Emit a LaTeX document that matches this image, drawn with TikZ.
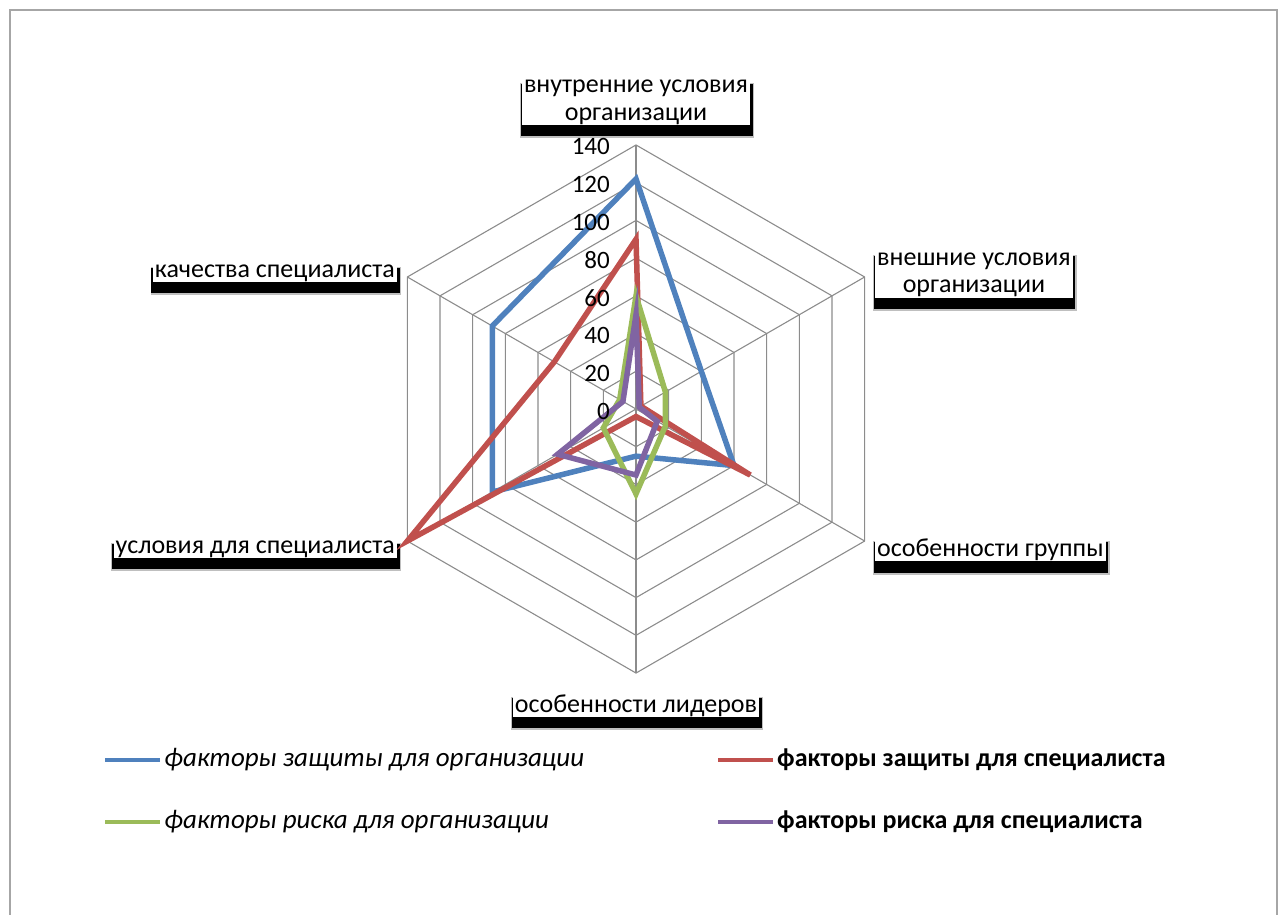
\documentclass[tikz,border=0pt]{standalone}
\usepackage{fontspec}
\setmainfont{Carlito}
\usetikzlibrary{backgrounds}
\definecolor{sBlue}{HTML}{4F81BD}
\definecolor{sRed}{HTML}{C0504D}
\definecolor{sGreen}{HTML}{9BBB59}
\definecolor{sPurple}{HTML}{8064A2}
\definecolor{gridc}{HTML}{8C8C8C}
\definecolor{framec}{HTML}{A6A6A6}
\newcommand\cx{636}
\newcommand\cy{409}
\newcommand\kk{1.886}
\newcommand\radar[7]{%
  \draw[#1] ({\cx},{\cy-#2*\kk})
    -- ({\cx+#3*\kk*cos(30)},{\cy-#3*\kk*sin(30)})
    -- ({\cx+#4*\kk*cos(30)},{\cy+#4*\kk*sin(30)})
    -- ({\cx},{\cy+#5*\kk})
    -- ({\cx-#6*\kk*cos(30)},{\cy+#6*\kk*sin(30)})
    -- ({\cx-#7*\kk*cos(30)},{\cy-#7*\kk*sin(30)})
    -- cycle;}
\begin{document}
\begin{tikzpicture}[x=1pt,y=-1pt,
  gridline/.style={draw=gridc, line width=1.1pt},
  series/.style={line width=5.5pt, line join=miter, miter limit=12},
  axlabel/.style={fill=white, inner xsep=2pt, inner ysep=0.5pt, align=center,
    font=\fontsize{26}{27.5}\selectfont},
  ticklbl/.style={anchor=east, inner sep=0pt, font=\fontsize{25}{27}\selectfont},
  legtext/.style={anchor=west, inner sep=0pt},
  legline/.style={line width=4pt}]
\useasboundingbox (0,0) rectangle (1284,914);
% outer frame
\draw[framec, line width=2pt] (9.5,930) -- (9.5,9.5) -- (1277,9.5) -- (1277,930);
% grid
\coordinate (O) at (\cx,\cy);
\foreach \r in {20,40,...,140}{
  \draw[gridline] ({\cx},{\cy-\r*\kk})
    -- ({\cx+\r*\kk*cos(30)},{\cy-\r*\kk*sin(30)})
    -- ({\cx+\r*\kk*cos(30)},{\cy+\r*\kk*sin(30)})
    -- ({\cx},{\cy+\r*\kk})
    -- ({\cx-\r*\kk*cos(30)},{\cy+\r*\kk*sin(30)})
    -- ({\cx-\r*\kk*cos(30)},{\cy-\r*\kk*sin(30)})
    -- cycle;}
\foreach \a [count=\i] in {90,30,-30,-90,-150,150}{
  \coordinate (V\i) at ({\cx+140*\kk*cos(\a)},{\cy-140*\kk*sin(\a)});
  \draw[gridline] (O) -- (V\i);}
% series
\radar{series, sBlue}{122}{40}{60}{25}{88}{88}
\radar{series, sRed}{90}{3}{70}{4}{140}{50}
\radar{series, sGreen}{60}{18}{18}{45}{20}{10}
\radar{series, sPurple}{50}{2}{13}{35}{48}{8}
% tick labels
\foreach \v in {0,20,...,140}{
  \node[ticklbl] (t\v) at (610,{\cy-\v*\kk+2}) {\v};}
% category labels
\node[axlabel] (lblA) at (636,102.5) {внутренние условия\\организации};
\node[axlabel, anchor=west] (lblB) at (875,275) {внешние условия\\организации};
\node[axlabel, anchor=west] (lblC) at (875,550) {особенности группы};
\node[axlabel] (lblD) at (636,705.5) {особенности лидеров};
\node[axlabel, anchor=east] (lblE) at (397,549) {условия для специалиста};
\node[axlabel, anchor=east] (lblF) at (397,273) {качества специалиста};
\begin{scope}[on background layer]
\foreach \n in {lblA,lblB,lblC,lblD,lblE,lblF}{
  \fill[black!25] ([xshift=-2pt,yshift=-3pt]\n.north west) rectangle ([xshift=4pt,yshift=-13pt]\n.south east);
  \fill[black] ([xshift=-1.2pt,yshift=-4pt]\n.north west) rectangle ([xshift=2.5pt,yshift=-11pt]\n.south east);}
\end{scope}
% legend
\draw[legline, sBlue] (105,760) coordinate (lb1) -- (160,760) coordinate (lb2);
\node[legtext, font=\fontsize{27}{28}\selectfont\itshape] (legA) at (164,760) {факторы защиты для организации};
\draw[legline, sGreen] (105,822) coordinate (lg1) -- (160,822) coordinate (lg2);
\node[legtext, font=\fontsize{27}{28}\selectfont\itshape] (legC) at (164,822) {факторы риска для организации};
\draw[legline, sRed] (718,760) coordinate (lr1) -- (773,760) coordinate (lr2);
\node[legtext, font=\fontsize{26}{28}\selectfont\bfseries] (legB) at (777,760) {факторы защиты для специалиста};
\draw[legline, sPurple] (718,822) coordinate (lp1) -- (773,822) coordinate (lp2);
\node[legtext, font=\fontsize{26}{28}\selectfont\bfseries] (legD) at (777,822) {факторы риска для специалиста};
\end{tikzpicture}
\end{document}
